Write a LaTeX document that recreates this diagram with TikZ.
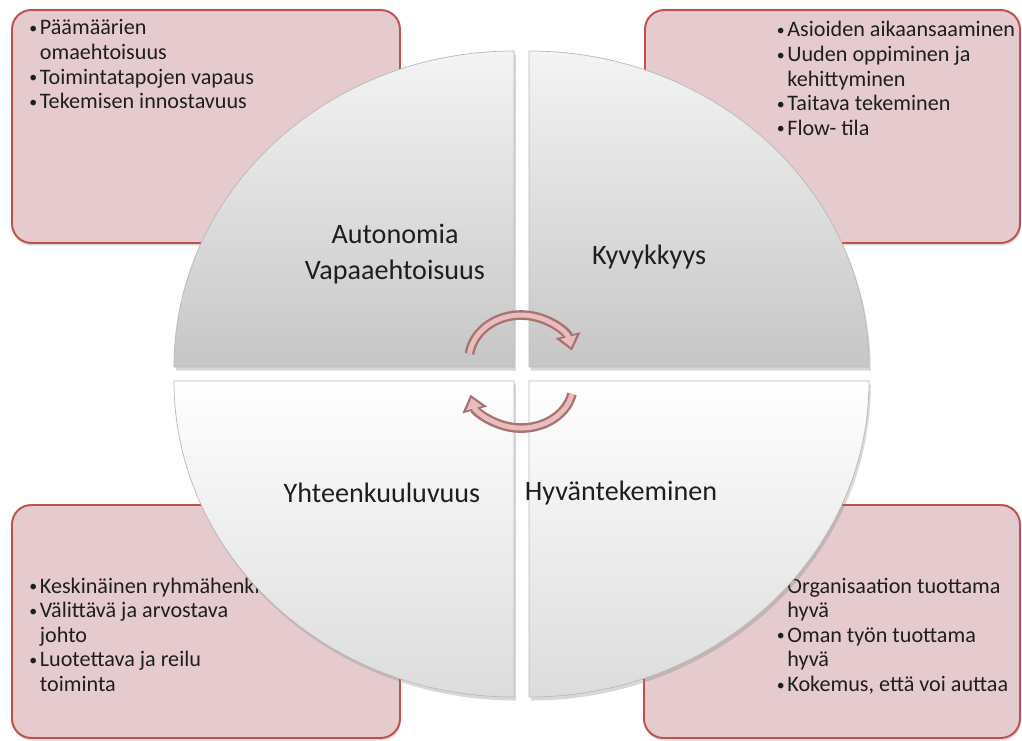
\documentclass[tikz,border=0pt]{standalone}
\usepackage{fontspec}
\setmainfont{Carlito}
\usepackage{tikz}
\usetikzlibrary{arrows.meta,shadows}
\definecolor{cardfill}{HTML}{E5CBCD}
\definecolor{cardline}{HTML}{C0504D}
\definecolor{quadhi}{HTML}{F4F4F4}
\definecolor{quadlo}{HTML}{C6C6C6}
\definecolor{quadlow}{HTML}{DCDCDC}
\definecolor{cycdark}{HTML}{A87272}
\definecolor{cyclight}{HTML}{E8BDBD}
\definecolor{inktext}{HTML}{1E1E1E}

\newcommand{\bul}{\makebox[6pt][l]{\raisebox{0.8pt}{\fontsize{9}{9}\selectfont\textbullet}}}

\begin{document}
\begin{tikzpicture}[
  card/.style={draw=cardline, line width=1.1pt, fill=cardfill, rounded corners=11pt, minimum height=4.66cm,
    drop shadow={opacity=0.25, shadow xshift=0.5pt, shadow yshift=-1.5pt}},
  list/.style={anchor=base west, inner sep=0pt, text=inktext, font=\fontsize{12.6}{14}\selectfont},
  quad/.style={draw=gray!55, line width=0.4pt, drop shadow={opacity=0.3, shadow xshift=1pt, shadow yshift=-2pt}},
  lbl/.style={inner sep=0pt, align=center, text=inktext, font=\fontsize{16}{20.5}\selectfont},
  cyc/.style={line width=5.5pt, draw=cycdark, -{Triangle[length=9pt, width=14pt]}},
  cycin/.style={line width=2.8pt, draw=cyclight, shorten >=2pt, -{Triangle[length=6pt, width=9pt]}}
]

\fill[white] (0,0) rectangle (20.44,14.8);
\useasboundingbox (0,0) rectangle (20.44,14.8);

% pink boxes behind the circle
\node[card, minimum width=7.76cm] (autobox) at (4.12, 12.27) {};
\node[card, minimum width=7.5cm] (kykybox) at (16.65, 12.27) {};
\node[card, minimum width=7.76cm] (yhtbox) at (4.12, 2.37) {};
\node[card, minimum width=7.52cm] (hyvbox) at (16.64, 2.37) {};

\node[list] (autolist) at (0.58, 14.1) {\begin{tabular}[t]{@{}l@{}l@{}}
  \bul & Päämäärien\\ & omaehtoisuus\\ \bul & Toimintatapojen vapaus\\ \bul & Tekemisen innostavuus
\end{tabular}};
\node[list] (kykylist) at (15.53, 14.06) {\begin{tabular}[t]{@{}l@{}l@{}}
  \bul & Asioiden aikaansaaminen\\ \bul & Uuden oppiminen ja\\ & kehittyminen\\ \bul & Taitava tekeminen\\ \bul & Flow- tila
\end{tabular}};
\node[list] (yhtlist) at (0.58, 2.94) {\begin{tabular}[t]{@{}l@{}l@{}}
  \bul & Keskinäinen ryhmähenki\\ \bul & Välittävä ja arvostava\\ & johto\\ \bul & Luotettava ja reilu\\ & toiminta
\end{tabular}};
\node[list] (hyvlist) at (15.53, 2.94) {\begin{tabular}[t]{@{}l@{}l@{}}
  \bul & Organisaation tuottama\\ & hyvä\\ \bul & Oman työn tuottama\\ & hyvä\\ \bul & Kokemus, että voi auttaa
\end{tabular}};

% circle in four quarters
\path[quad, top color=quadhi, bottom color=quadlo] (10.28,7.46) -- ++(-6.8,0)
  arc[start angle=180, end angle=90, x radius=6.8, y radius=6.32] -- cycle;
\path[quad, top color=quadhi, bottom color=quadlo] (10.58,7.46) -- ++(6.8,0)
  arc[start angle=0, end angle=90, x radius=6.8, y radius=6.32] -- cycle;
\path[quad, top color=white, bottom color=quadlow] (10.28,7.18) -- ++(-6.8,0)
  arc[start angle=180, end angle=270, x radius=6.8, y radius=6.32] -- cycle;
\path[quad, top color=white, bottom color=quadlow] (10.58,7.18) -- ++(6.8,0)
  arc[start angle=0, end angle=-90, x radius=6.8, y radius=6.32] -- cycle;

\node[lbl] (autonomia) at (7.9, 9.72) {Autonomia\\Vapaaehtoisuus};
\node[lbl] (kyvykkyys) at (12.98, 9.66) {Kyvykkyys};
\node[lbl] (yhteen) at (7.64, 4.94) {Yhteenkuuluvuus};
\node[lbl] (hyvante) at (12.42, 4.94) {Hyväntekeminen};

% the two turning arrows
\coordinate (cyctop) at (9.39, 7.725);
\coordinate (cycbot) at (11.44, 6.92);
\draw[cyc] (cyctop) arc[start angle=172, end angle=12, x radius=1.04, y radius=0.9];
\draw[cycin] (cyctop) arc[start angle=172, end angle=12, x radius=1.04, y radius=0.9];
\draw[cyc] (cycbot) arc[start angle=-12, end angle=-167, x radius=1.04, y radius=0.86];
\draw[cycin] (cycbot) arc[start angle=-12, end angle=-167, x radius=1.04, y radius=0.86];

\end{tikzpicture}
\end{document}
